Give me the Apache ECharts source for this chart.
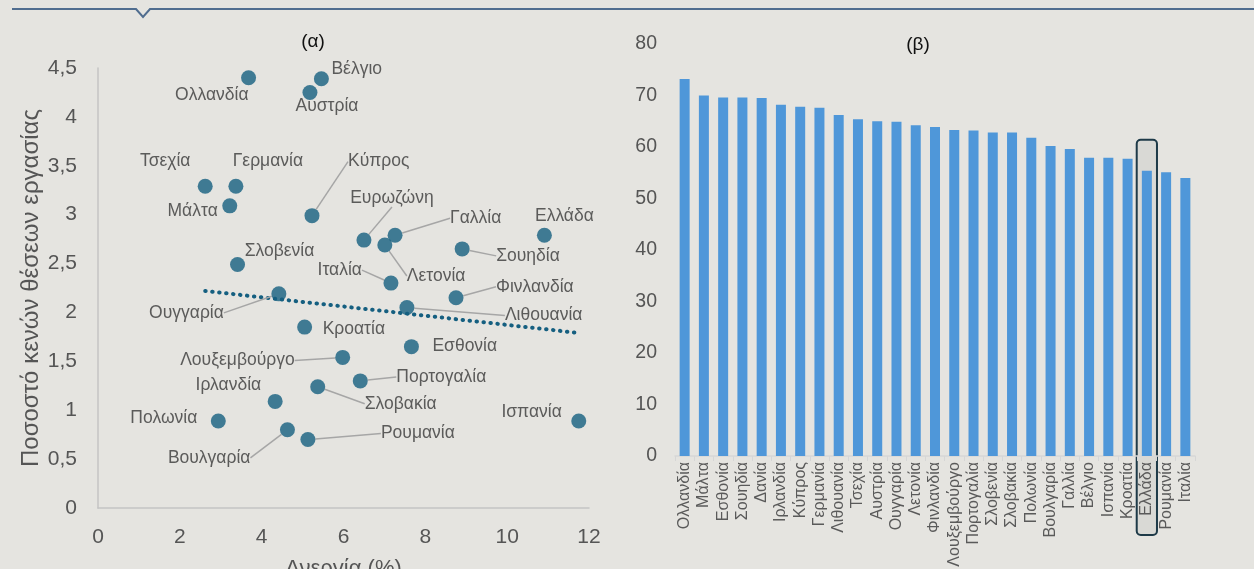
<!DOCTYPE html>
<html>
<head>
<meta charset="utf-8">
<script src="https://cdn.jsdelivr.net/npm/echarts@6/dist/echarts.min.js"></script>
<style>
html,body{margin:0;padding:0;background:#e5e4e0;}
#c{width:1254px;height:569px;}
</style>
</head>
<body>
<div id="c"></div>
<script>
// ---- Panel (α): unemployment vs job vacancy rate ----
const countries = ['Ολλανδία','Βέλγιο','Αυστρία','Τσεχία','Γερμανία','Μάλτα','Κύπρος','Ευρωζώνη','Γαλλία','Λετονία','Ιταλία','Ελλάδα','Σουηδία','Σλοβενία','Φινλανδία','Ουγγαρία','Λιθουανία','Κροατία','Εσθονία','Λουξεμβούργο','Πορτογαλία','Σλοβακία','Ιρλανδία','Πολωνία','Ισπανία','Βουλγαρία','Ρουμανία'];
const unemployment = [3.68,5.46,5.18,2.62,3.37,3.22,5.23,6.50,7.26,7.01,7.16,10.91,8.90,3.41,8.75,4.42,7.55,5.05,7.66,5.98,6.41,5.37,4.33,2.94,11.75,4.63,5.13];
const vacancyRate = [4.40,4.39,4.25,3.29,3.29,3.09,2.99,2.74,2.79,2.69,2.30,2.79,2.65,2.49,2.15,2.19,2.05,1.85,1.65,1.54,1.30,1.24,1.09,0.89,0.89,0.80,0.70];
const trendX = [2.62, 11.75];
const trendY = [2.22, 1.79];
const xTicks = [0,2,4,6,8,10,12];
const yTicks = [0,0.5,1,1.5,2,2.5,3,3.5,4,4.5];

// ---- Panel (β): employment rate ----
const barCategories = ['Ολλανδία','Μάλτα','Εσθονία','Σουηδία','Δανία','Ιρλανδία','Κύπρος','Γερμανία','Λιθουανία','Τσεχία','Αυστρία','Ουγγαρία','Λετονία','Φινλανδία','Λουξεμβούργο','Πορτογαλία','Σλοβενία','Σλοβακία','Πολωνία','Βουλγαρία','Γαλλία','Βέλγιο','Ισπανία','Κροατία','Ελλάδα','Ρουμανία','Ιταλία'];
const employmentRate = [73.2,70.0,69.6,69.6,69.5,68.2,67.8,67.6,66.2,65.4,65.0,64.9,64.2,63.9,63.3,63.2,62.8,62.8,61.8,60.2,59.6,57.9,57.9,57.7,55.4,55.1,54.0];
const highlighted = 'Ελλάδα';

// label placement (layout only): [dx, dy, align, leader]
const LBL = {
  'Ολλανδία':[0,17,'right',0],'Βέλγιο':[10,-10,'left',0],'Αυστρία':[17,14,'center',0],
  'Τσεχία':[-40,-25,'center',0],'Γερμανία':[32,-25,'center',0],'Μάλτα':[-12,5,'right',0],
  'Κύπρος':[36,-54,'left',1],'Ευρωζώνη':[28,-42,'center',1],'Γαλλία':[55,-17,'left',1],
  'Λετονία':[22,31,'left',1],'Ιταλία':[-29,-13,'right',1],'Ελλάδα':[20,-19,'center',0],
  'Σουηδία':[34,7,'left',1],'Σλοβενία':[42,-13,'center',0],'Φινλανδία':[40,-11,'left',1],
  'Ουγγαρία':[-55,19,'right',1],'Λιθουανία':[98,8,'left',1],'Κροατία':[18,2,'left',0],
  'Εσθονία':[21,0,'left',0],'Λουξεμβούργο':[-48,3,'right',1],'Πορτογαλία':[36,-4,'left',1],
  'Σλοβακία':[47,17,'left',1],'Ιρλανδία':[-14,-16,'right',0],'Πολωνία':[-21,-3,'right',0],
  'Ισπανία':[-17,-9,'right',0],'Βουλγαρία':[-37,28,'right',1],'Ρουμανία':[73,-6,'left',1]
};

const plainData = [], leaderData = [];
countries.forEach((c,i)=>{
  const item = {name:c, value:[unemployment[i], vacancyRate[i]]};
  (LBL[c][3] ? leaderData : plainData).push(item);
});

const FONT = 'Liberation Sans, Arial, sans-serif';
const comma = v => String(v).replace('.', ',');
const TEAL = '#155f80';
const labelLayout = p => {
  const o = LBL[p.text] || [0,0,'left'];
  const cx = p.rect.x + p.rect.width/2, cy = p.rect.y + p.rect.height/2;
  return {x: cx + o[0], y: cy + o[1], align: o[2], verticalAlign: 'middle'};
};
const scatterLabel = {show:true, formatter:'{b}', fontSize:17.5, color:'#383838', fontFamily:FONT};

const chart = echarts.init(document.getElementById('c'), null, {renderer:'canvas'});
const option = {
  backgroundColor:'#e5e4e0',
  animation:false,
  textStyle:{fontFamily:FONT},
  graphic:[
    {id:'topline', type:'polyline', z:5, shape:{points:[[12,9],[136,9],[143,17],[150,9],[1254,9]]}, style:{stroke:'#506d8f', lineWidth:2, fill:null}},
    {id:'ta', type:'text', x:313, y:42, style:{text:'(α)', fontSize:19, fill:'#111', textAlign:'center', textVerticalAlign:'middle', fontFamily:FONT}},
    {id:'tb', type:'text', x:918, y:45, style:{text:'(β)', fontSize:19, fill:'#111', textAlign:'center', textVerticalAlign:'middle', fontFamily:FONT}}
  ],
  grid:[
    {left:98, top:68, width:491, height:440, outerBoundsMode:'none', containLabel:false},
    {left:675, top:44, width:520, height:412, outerBoundsMode:'none', containLabel:false}
  ],
  xAxis:[
    {gridIndex:0, type:'value', min:xTicks[0], max:xTicks[xTicks.length-1], interval:2,
     axisLine:{show:true, lineStyle:{color:'#c4c4c4', width:1.5}}, axisTick:{show:false}, splitLine:{show:false},
     axisLabel:{fontSize:21, color:'#555555', margin:19},
     name:'Ανεργία (%)', nameLocation:'middle', nameGap:50, nameTextStyle:{fontSize:22, color:'#555555'}},
    {gridIndex:1, type:'category', data:barCategories,
     axisLine:{show:true, lineStyle:{color:'#d6d6d6', width:1.5}}, axisTick:{show:true, length:5, lineStyle:{color:'#d6d6d6'}},
     axisLabel:{rotate:90, interval:0, fontSize:16, color:'#5a5a5a', margin:6}, splitLine:{show:false}}
  ],
  yAxis:[
    {gridIndex:0, type:'value', min:yTicks[0], max:yTicks[yTicks.length-1], interval:0.5,
     axisLine:{show:true, lineStyle:{color:'#c4c4c4', width:1.5}}, axisTick:{show:false}, splitLine:{show:false},
     axisLabel:{fontSize:21, color:'#555555', margin:21, formatter:comma},
     name:'Ποσοστό κενών θέσεων εργασίας', nameLocation:'middle', nameRotate:90, nameGap:55, nameTextStyle:{fontSize:24, color:'#555555'}},
    {gridIndex:1, type:'value', min:0, max:80, interval:10,
     axisLine:{show:false}, axisTick:{show:false}, splitLine:{show:false},
     axisLabel:{fontSize:19.5, color:'#555555', margin:18}}
  ],
  series:[
    {type:'line', xAxisIndex:0, yAxisIndex:0, data:trendX.map((x,i)=>[x, trendY[i]]), symbol:'none', z:1,
     lineStyle:{color:TEAL, width:4, type:[0.5,6.5], cap:'round'}},
    {type:'scatter', xAxisIndex:0, yAxisIndex:0, data:plainData, symbolSize:15, z:3,
     itemStyle:{color:TEAL}, label:scatterLabel, labelLayout:labelLayout},
    {type:'scatter', xAxisIndex:0, yAxisIndex:0, data:leaderData, symbolSize:15, z:3,
     itemStyle:{color:TEAL}, label:scatterLabel, labelLayout:labelLayout,
     labelLine:{show:true, smooth:false, lineStyle:{color:'#a6a6a6', width:1.5}}},
    {type:'bar', xAxisIndex:1, yAxisIndex:1, data:employmentRate, barWidth:10, z:3,
     itemStyle:{color:'#4f97d9'}}
  ]
};
chart.setOption(option);

// highlight box around the highlighted category, placed via the axis scale
const gi = barCategories.indexOf(highlighted);
const pTop = chart.convertToPixel({xAxisIndex:1, yAxisIndex:1}, [gi, employmentRate[gi] + 6]);
const p0 = chart.convertToPixel({xAxisIndex:1, yAxisIndex:1}, [gi, 0]);
const p1 = chart.convertToPixel({xAxisIndex:1, yAxisIndex:1}, [gi + 1, 0]);
const bw = (p1[0] - p0[0]) + 1;
chart.setOption({graphic:[
  {id:'hl', type:'rect', z:-10, shape:{x:p0[0]-bw/2, y:pTop[1], width:bw, height:(p0[1]+79)-pTop[1], r:4},
   style:{fill:'#d9d9d5', stroke:'#1e3a48', lineWidth:2}}
]});
</script>
</body>
</html>
